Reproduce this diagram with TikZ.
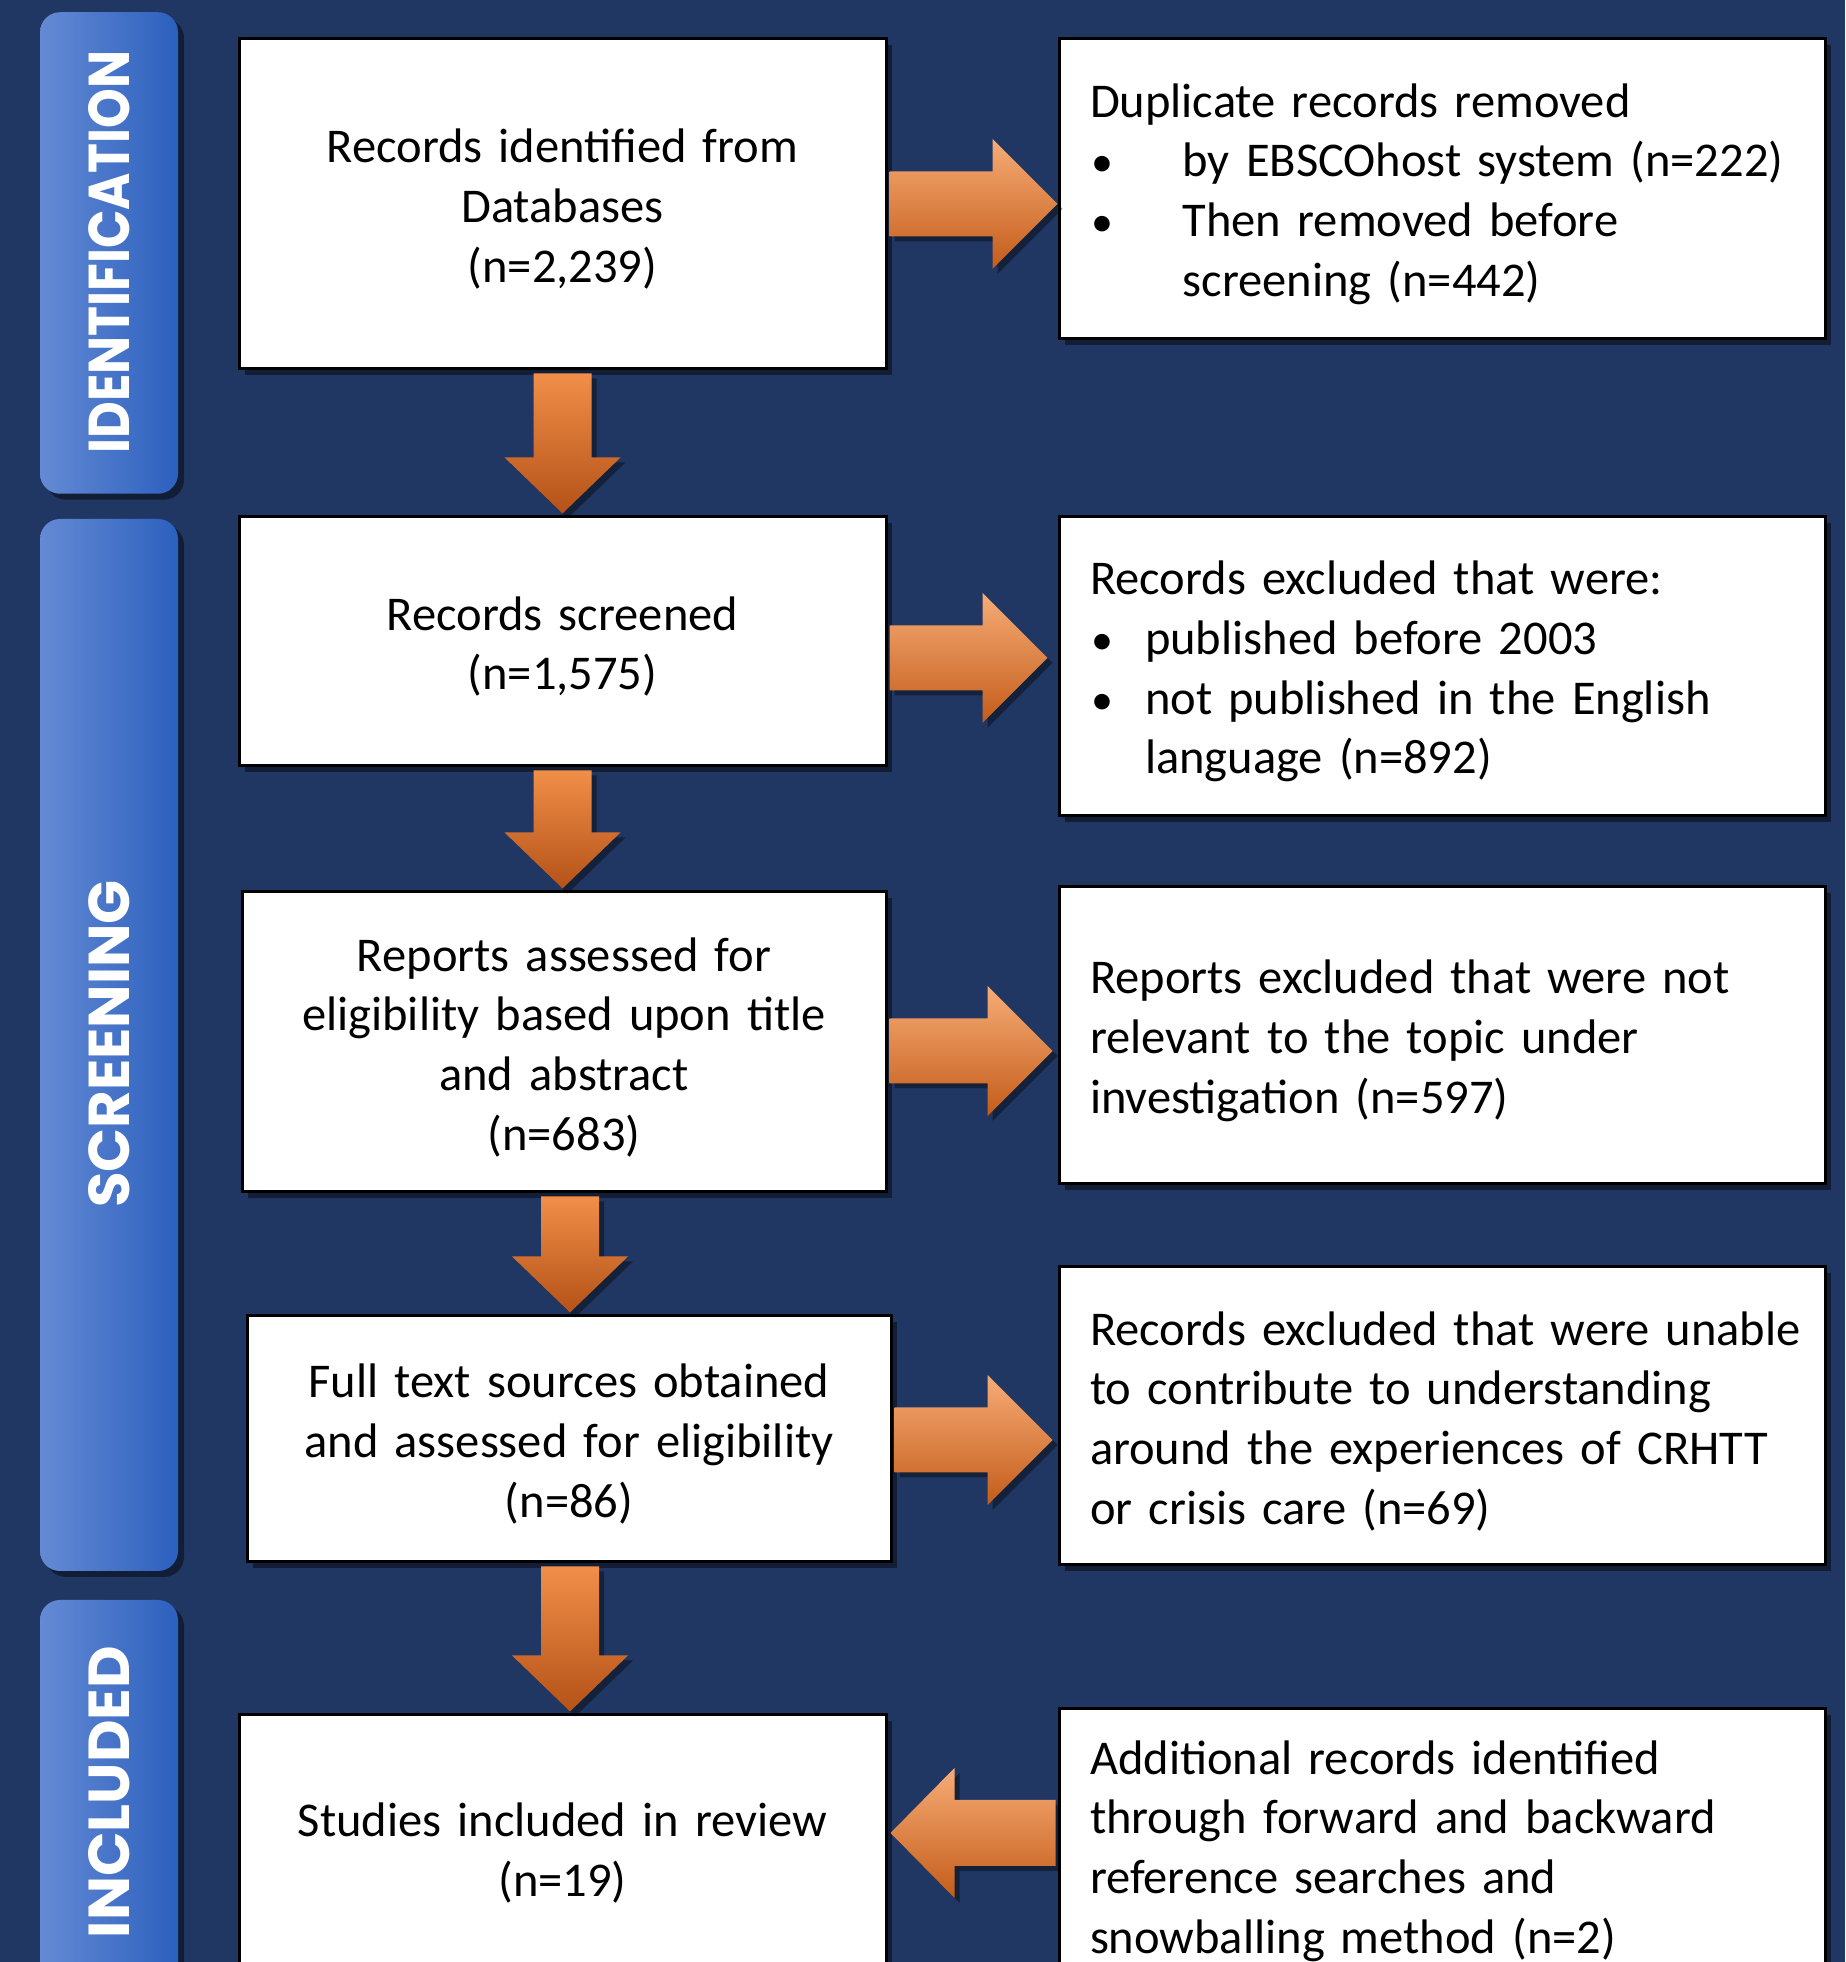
\documentclass[tikz,border=0pt]{standalone}
\usepackage{fontspec}
\usepackage{graphicx}
\setmainfont{Carlito}
\newfontfamily\tabfont{Poppins}
\usetikzlibrary{shadows,calc}
\definecolor{navy}{RGB}{33,55,99}
\definecolor{tabL}{RGB}{100,138,212}
\definecolor{tabR}{RGB}{44,96,190}
\definecolor{orTop}{RGB}{246,172,118}
\definecolor{orMid}{RGB}{238,136,60}
\definecolor{orBot}{RGB}{196,92,26}
\definecolor{orVtop}{RGB}{241,142,72}
\definecolor{orVbot}{RGB}{180,82,24}
\newcommand\oneline[1]{\mbox{#1}}
\newcommand\bul[1]{\makebox[#1][l]{\hspace{1pt}{\fontsize{44pt}{44pt}\selectfont•}}}
\tikzset{
  box/.style={draw=black, line width=3pt, fill=white, inner sep=0pt,
    drop shadow={shadow xshift=6pt, shadow yshift=-6pt, opacity=0.45, fill=black},
    font=\fontsize{48.5pt}{59.7pt}\selectfont,
    execute at begin node={\rule{0pt}{44pt}}},
  lbox/.style={box, align=center, text width=620pt, minimum width=647pt},
  rbox/.style={box, align=left, text width=704pt, inner xsep=31pt},
  tabbox/.style={rounded corners=20pt, left color=tabL, right color=tabR,
    minimum width=138pt, inner sep=0pt,
    drop shadow={shadow xshift=6pt, shadow yshift=-6pt, opacity=0.45, fill=black}},
  tablabel/.style={rotate=90, text=white, inner sep=0pt, font=\tabfont\bfseries},
  harr/.style={top color=orTop, middle color=orMid, bottom color=orBot,
    drop shadow={shadow xshift=5pt, shadow yshift=-5pt, opacity=0.4, fill=black}},
  varr/.style={top color=orVtop, bottom color=orVbot,
    drop shadow={shadow xshift=5pt, shadow yshift=-5pt, opacity=0.4, fill=black}}
}
% right-pointing block arrow: from node, to node, Y centre, gap before target
\newcommand\harrowR[4]{%
  \shade[harr] let \p1=(#1.east), \p2=(#2.west) in
  ({\x1+2pt},{#3pt+32.5pt}) -- ({\x2-#4pt-65pt},{#3pt+32.5pt}) --
  ({\x2-#4pt-65pt},{#3pt+65pt}) -- ({\x2-#4pt},{#3pt}) --
  ({\x2-#4pt-65pt},{#3pt-65pt}) -- ({\x2-#4pt-65pt},{#3pt-32.5pt}) --
  ({\x1+2pt},{#3pt-32.5pt}) -- cycle;}
% left-pointing block arrow: from node (right), to node (left), Y centre
\newcommand\harrowL[3]{%
  \shade[harr] let \p1=(#1.west), \p2=(#2.east) in
  ({\x1-2pt},{#3pt+33pt}) -- ({\x2+3pt+64pt},{#3pt+33pt}) --
  ({\x2+3pt+64pt},{#3pt+65pt}) -- ({\x2+3pt},{#3pt}) --
  ({\x2+3pt+64pt},{#3pt-65pt}) -- ({\x2+3pt+64pt},{#3pt-33pt}) --
  ({\x1-2pt},{#3pt-33pt}) -- cycle;}
% down-pointing block arrow: from node, to node, X centre
\newcommand\varrowD[3]{%
  \shade[varr] let \p1=(#1.south), \p2=(#2.north) in
  ({#3pt-29pt},{\y1-3pt}) -- ({#3pt+29pt},{\y1-3pt}) --
  ({#3pt+29pt},{\y2+58pt}) -- ({#3pt+58pt},{\y2+58pt}) --
  ({#3pt},{\y2+2pt}) -- ({#3pt-58pt},{\y2+58pt}) --
  ({#3pt-29pt},{\y2+58pt}) -- cycle;}
\begin{document}
\begin{tikzpicture}[x=1pt,y=1pt]
\useasboundingbox (0,0) rectangle (1845,1962);
\clip (0,0) rectangle (1845,1962);
\fill[navy] (0,0) rectangle (1845,1962);

% phase tabs
\node[tabbox, minimum height=481.5pt] (t1) at (109,1709) {};
\node[tabbox, minimum height=1052pt] (t2) at (109,917) {};
\node[tabbox, minimum height=390pt] (t3) at (109,167) {};
\node[tablabel] (t1l) at (109,1710) {\resizebox{403pt}{41pt}{IDENTIFICATION}};
\node[tablabel] (t2l) at (109,918) {\resizebox{328pt}{41pt}{SCREENING}};
\node[tablabel] (t3l) at (109,170) {\resizebox{292pt}{41pt}{INCLUDED}};

% left column
\node[lbox, minimum height=330pt] (b1) at (562.5,1758)
  {Records identified from\\Databases\\(n=2,239)};
\node[lbox, minimum height=249pt] (b2) at (562.5,1320.5)
  {Records screened\\(n=1,575)};
\node[lbox, minimum height=300pt, minimum width=644pt] (b3) at (564,920)
  {Reports assessed for\\eligibility based upon title\\and abstract\\(n=683)};
\node[lbox, minimum height=246pt, minimum width=644pt] (b4) at (569,523)
  {Full text sources obtained\\and assessed for eligibility\\(n=86)};
\node[lbox, minimum height=266pt] (b5) at (562.5,114)
  {Studies included in review\\(n=19)};

% right column
\node[rbox, minimum height=300pt] (d1) at (1442,1773)
  {\oneline{Duplicate records removed}\\
   \oneline{\bul{92.7pt}by EBSCOhost system (n=222)}\\
   \oneline{\bul{92.7pt}Then removed before}\\
   \oneline{\hspace*{92.7pt}screening (n=442)}};
\node[rbox, minimum height=299pt] (d2) at (1442,1295.5)
  {\oneline{Records excluded that were:}\\
   \oneline{\bul{55pt}published before 2003}\\
   \oneline{\bul{55pt}not published in the English}\\
   \oneline{\hspace*{55pt}language (n=892)}};
\node[rbox, minimum height=297pt] (d3) at (1442,926.5)
  {\oneline{Reports excluded that were not}\\
   \oneline{relevant to the topic under}\\
   \oneline{investigation (n=597)}};
\node[rbox, minimum height=298pt] (d4) at (1442,546)
  {\oneline{Records excluded that were unable}\\
   \oneline{to contribute to understanding}\\
   \oneline{around the experiences of CRHTT}\\
   \oneline{or crisis care (n=69)}};
\node[rbox, minimum height=274pt] (d5) at (1442,116)
  {\oneline{Additional records identified}\\
   \oneline{through forward and backward}\\
   \oneline{reference searches and}\\
   \oneline{snowballing method (n=2)}};

% arrows
\harrowR{b1}{d1}{1758}{0}
\harrowR{b2}{d2}{1304}{10}
\harrowR{b3}{d3}{911}{5}
\harrowR{b4}{d4}{522}{5}
\harrowL{d5}{b5}{129}
\varrowD{b1}{b2}{562.5}
\varrowD{b2}{b3}{562.5}
\varrowD{b3}{b4}{570}
\varrowD{b4}{b5}{570}
\end{tikzpicture}
\end{document}
